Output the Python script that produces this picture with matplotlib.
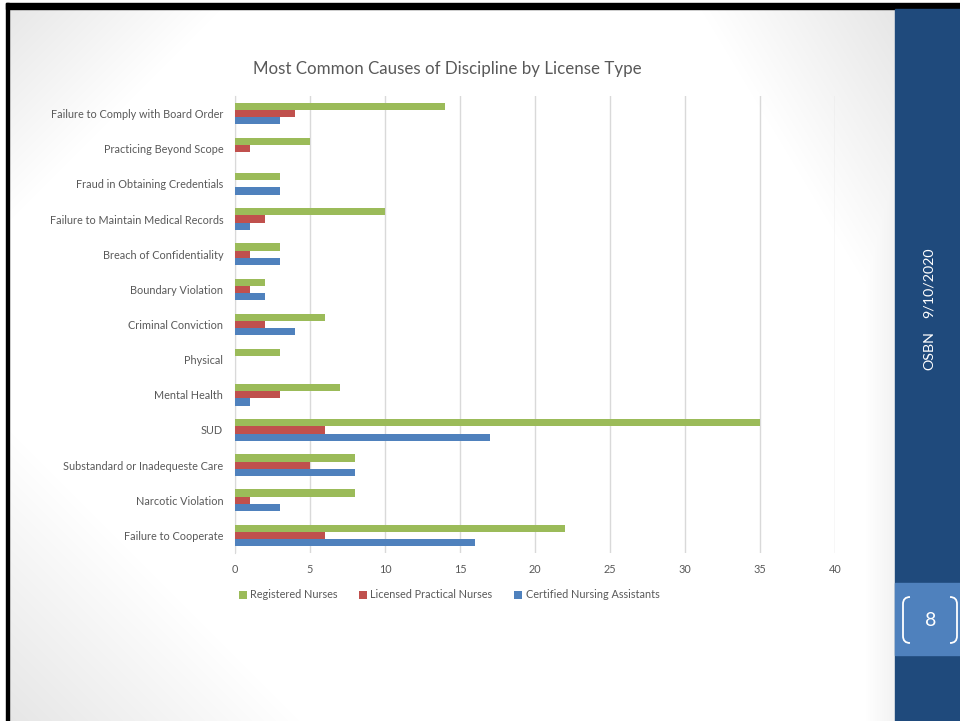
import numpy as np
import matplotlib
matplotlib.use("Agg")
import matplotlib.pyplot as plt
from matplotlib.patches import Rectangle, PathPatch
from matplotlib.path import Path

categories = [
    "Failure to Comply with Board Order",
    "Practicing Beyond Scope",
    "Fraud in Obtaining Credentials",
    "Failure to Maintain Medical Records",
    "Breach of Confidentiality",
    "Boundary Violation",
    "Criminal Conviction",
    "Physical",
    "Mental Health",
    "SUD",
    "Substandard or Inadequeste Care",
    "Narcotic Violation",
    "Failure to Cooperate",
]
registered_nurses = [14, 5, 3, 10, 3, 2, 6, 3, 7, 35, 8, 8, 22]
licensed_practical_nurses = [4, 1, 0, 2, 1, 1, 2, 0, 3, 6, 5, 1, 6]
certified_nursing_assistants = [3, 0, 3, 1, 3, 2, 4, 0, 1, 17, 8, 3, 16]
series_names = ["Registered Nurses", "Licensed Practical Nurses", "Certified Nursing Assistants"]
x_ticks = [0, 5, 10, 15, 20, 25, 30, 35, 40]
title = "Most Common Causes of Discipline by License Type"

colors = ["#9BBB59", "#C0504D", "#4F81BD"]
text_color = "#595959"
FONT = ["Lato", "DejaVu Sans"]

W, H = 960, 721
fig = plt.figure(figsize=(W / 100, H / 100), dpi=100)

# ---------- background slide ----------
bg = fig.add_axes([0, 0, 1, 1], zorder=0)
bg.set_xlim(0, W)
bg.set_ylim(H, 0)
bg.axis("off")

yy, xx = np.mgrid[0:H, 0:W].astype(float)
shade = np.zeros((H, W))
d_tl = (xx + yy) / 230.0
d_bl = (xx + (H - yy)) / 300.0
d_tr = ((895 - xx) + yy * 0.6) / 200.0
for d in (d_tl, d_bl, d_tr):
    shade = np.maximum(shade, np.clip(1 - d, 0, 1) * 0.10)
shade = np.maximum(shade, np.clip(1 - (895 - xx) / 30.0, 0, 1) * 0.05)
img = np.ones((H, W, 3)) * (1 - shade)[..., None]
bg.imshow(img, extent=[0, W, H, 0], aspect="auto", zorder=0)

bg.add_patch(Rectangle((0, 0), 6, H, color="white", zorder=1))
bg.add_patch(Rectangle((0, 0), W, 3, color="white", zorder=1))
bg.add_patch(Rectangle((6, 3), W - 6, 6, color="black", zorder=2))
bg.add_patch(Rectangle((6, 3), 3, H - 3, color="black", zorder=2))
bg.add_patch(Rectangle((895, 9), W - 895, H - 9, color="#1F4A7C", zorder=2))
bg.add_patch(Rectangle((895, 583), W - 895, 72, color="#4F81BD", zorder=3))

lb = Path([(910, 597), (903, 597), (903, 604), (903, 604), (903, 636), (903, 636),
           (903, 643), (910, 643)],
          [Path.MOVETO, Path.CURVE3, Path.CURVE3, Path.LINETO, Path.LINETO,
           Path.LINETO, Path.CURVE3, Path.CURVE3])
rb = Path([(950, 597), (957, 597), (957, 604), (957, 604), (957, 636), (957, 636),
           (957, 643), (950, 643)],
          [Path.MOVETO, Path.CURVE3, Path.CURVE3, Path.LINETO, Path.LINETO,
           Path.LINETO, Path.CURVE3, Path.CURVE3])
for p in (lb, rb):
    bg.add_patch(PathPatch(p, facecolor="none", edgecolor="white", lw=1.3, zorder=4))
bg.text(931, 621, "8", color="white", fontsize=14, ha="center", va="center",
        family=FONT, zorder=5)
bg.text(929, 283, "9/10/2020", color="white", fontsize=10.3, rotation=90,
        ha="center", va="center", family=FONT, zorder=5)
bg.text(929, 351, "OSBN", color="white", fontsize=10.3, rotation=90,
        ha="center", va="center", family=FONT, zorder=5)

bg.text(447, 69, title, color=text_color, fontsize=12.2, ha="center", va="center",
        family=FONT, zorder=5)

# ---------- chart ----------
left, right, top, bottom = 235, 835, 96, 553
ax = fig.add_axes([left / W, 1 - bottom / H, (right - left) / W, (bottom - top) / H],
                  zorder=1)
ax.patch.set_alpha(0)

y = np.arange(len(categories))
h = 0.205
series = [registered_nurses, licensed_practical_nurses, certified_nursing_assistants]
offsets = [-h, 0, h]
for vals, off, c, name in zip(series, offsets, colors, series_names):
    ax.barh(y + off, vals, height=h, color=c, label=name, zorder=3)

ax.set_xlim(0, 40)
ax.set_ylim(len(categories) - 0.5, -0.5)
ax.set_xticks(x_ticks)
ax.set_yticks(y)
ax.set_yticklabels(categories)
ax.grid(axis="x", color="#D9D9D9", lw=1, zorder=0)
ax.set_axisbelow(True)
for s in ["top", "right", "bottom"]:
    ax.spines[s].set_visible(False)
ax.spines["left"].set_color("#D9D9D9")
ax.spines["left"].set_zorder(2)
ax.tick_params(length=0, colors=text_color, labelsize=7.8)
ax.tick_params(axis="y", pad=8.5)
ax.tick_params(axis="x", pad=8)
for lab in ax.get_xticklabels() + ax.get_yticklabels():
    lab.set_family(FONT)

leg = fig.legend(loc="center", bbox_to_anchor=(449 / W, 1 - 595 / H), ncol=3,
                 frameon=False, prop={"family": FONT, "size": 7.8},
                 handlelength=0.75, handleheight=0.75, handletextpad=0.3,
                 columnspacing=2.0, labelcolor=text_color)

fig.savefig("out.png", dpi=100)
